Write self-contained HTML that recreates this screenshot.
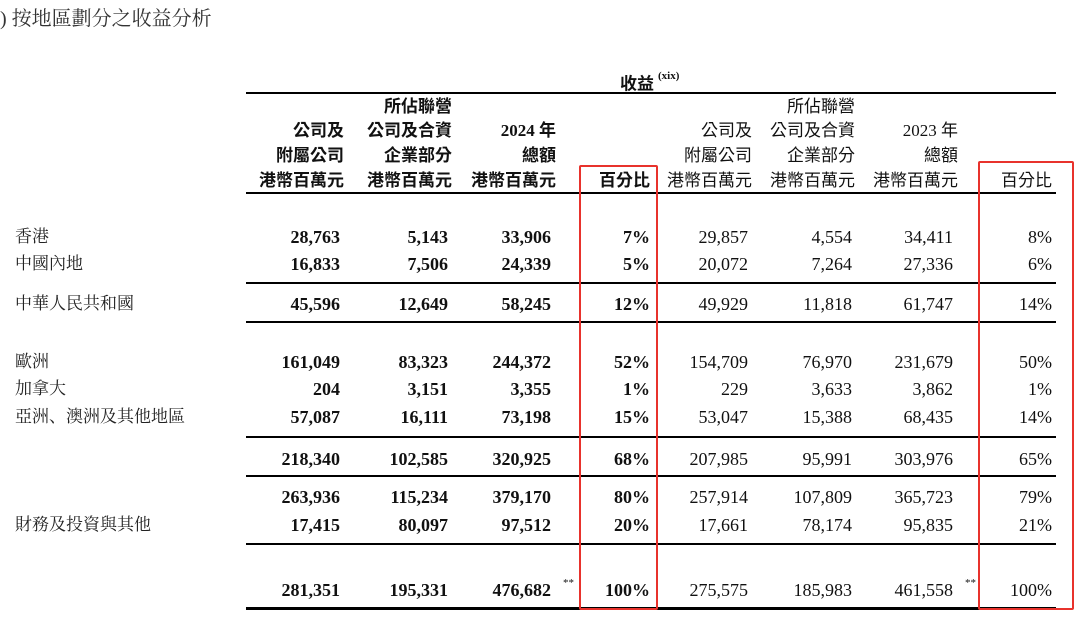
<!DOCTYPE html>
<html><head><meta charset="utf-8"><style>
body{margin:0;width:1080px;height:631px;background:#fff;position:relative;overflow:hidden;font-family:"Liberation Serif","Noto Serif CJK SC","Noto Sans CJK TC",serif;color:#111}
.t{position:absolute;white-space:nowrap;font-size:18px;line-height:20px}
.r{text-align:right}
.b{font-weight:bold}
.h{font-family:"Liberation Serif","Noto Sans CJK TC",sans-serif;font-size:17px}
.lab{font-family:"Liberation Serif","Noto Serif CJK SC",serif;font-size:17px}
.l{position:absolute;left:246px;width:810px;background:#000}
.box{position:absolute;border:2px solid #e8322c;border-radius:2px}
</style></head><body>
<div class="t" style="left:0;top:7px;font-size:20px;line-height:24px;font-family:'Liberation Serif','Noto Serif CJK SC',serif;color:#333">) 按地區劃分之收益分析</div>
<div class="t h b" style="left:620px;top:70px;font-size:17px">收益<sup style="font-size:11px;font-family:'Liberation Serif',serif;position:relative;top:-4px;margin-left:4px">(xix)</sup></div>
<div class="l" style="top:92px;height:2px"></div>
<div class="l" style="top:192px;height:2px"></div>
<div class="l" style="top:282px;height:2px"></div>
<div class="l" style="top:321px;height:2px"></div>
<div class="l" style="top:436px;height:2px"></div>
<div class="l" style="top:475px;height:2px"></div>
<div class="l" style="top:543px;height:2px"></div>
<div class="l" style="top:607px;height:3px"></div>

<div class="t" style="left:563px;top:573px;font-size:11px">**</div>
<div class="t" style="left:965px;top:573px;font-size:11px">**</div>
<div class="box" style="left:579px;top:165px;width:75px;height:441px"></div>
<div class="box" style="left:978px;top:161px;width:92px;height:445px"></div>
<script>
function T(x,y,s,cls){var d=document.createElement('div');d.className='t r '+(cls||'');d.style.right=(1080-x)+'px';d.style.top=(y-10)+'px';d.textContent=s;document.body.appendChild(d);}
function L(x,y,s){var d=document.createElement('div');d.className='t lab';d.style.left=x+'px';d.style.top=(y-10)+'px';d.style.color='#222';d.textContent=s;document.body.appendChild(d);}
var hy=[107,131,156,181];
var hc=[[344,['','公司及','附屬公司','港幣百萬元']],[452,['所佔聯營','公司及合資','企業部分','港幣百萬元']],[556,['','2024 年','總額','港幣百萬元']],[650,['','','','百分比']]];
hc.forEach(function(c){c[1].forEach(function(s,i){if(s)T(c[0],hy[i],s,'h b');});});
var hc2=[[752,['','公司及','附屬公司','港幣百萬元']],[855,['所佔聯營','公司及合資','企業部分','港幣百萬元']],[958,['','2023 年','總額','港幣百萬元']],[1052,['','','','百分比']]];
hc2.forEach(function(c){c[1].forEach(function(s,i){if(s)T(c[0],hy[i],s,'h');});});
var rows=[[237,'香港',['28,763','5,143','33,906','7%'],['29,857','4,554','34,411','8%']],
[264,'中國內地',['16,833','7,506','24,339','5%'],['20,072','7,264','27,336','6%']],
[304,'中華人民共和國',['45,596','12,649','58,245','12%'],['49,929','11,818','61,747','14%']],
[362,'歐洲',['161,049','83,323','244,372','52%'],['154,709','76,970','231,679','50%']],
[389,'加拿大',['204','3,151','3,355','1%'],['229','3,633','3,862','1%']],
[417,'亞洲、澳洲及其他地區',['57,087','16,111','73,198','15%'],['53,047','15,388','68,435','14%']],
[459,'',['218,340','102,585','320,925','68%'],['207,985','95,991','303,976','65%']],
[497,'',['263,936','115,234','379,170','80%'],['257,914','107,809','365,723','79%']],
[525,'財務及投資與其他',['17,415','80,097','97,512','20%'],['17,661','78,174','95,835','21%']],
[590,'',['281,351','195,331','476,682','100%'],['275,575','185,983','461,558','100%']]];
var x1=[340,448,551,650],x2=[748,852,953,1052];
rows.forEach(function(r){if(r[1])L(15,r[0],r[1]);r[2].forEach(function(s,i){T(x1[i],r[0],s,'b');});r[3].forEach(function(s,i){T(x2[i],r[0],s,'');});});
</script>
</body></html>
